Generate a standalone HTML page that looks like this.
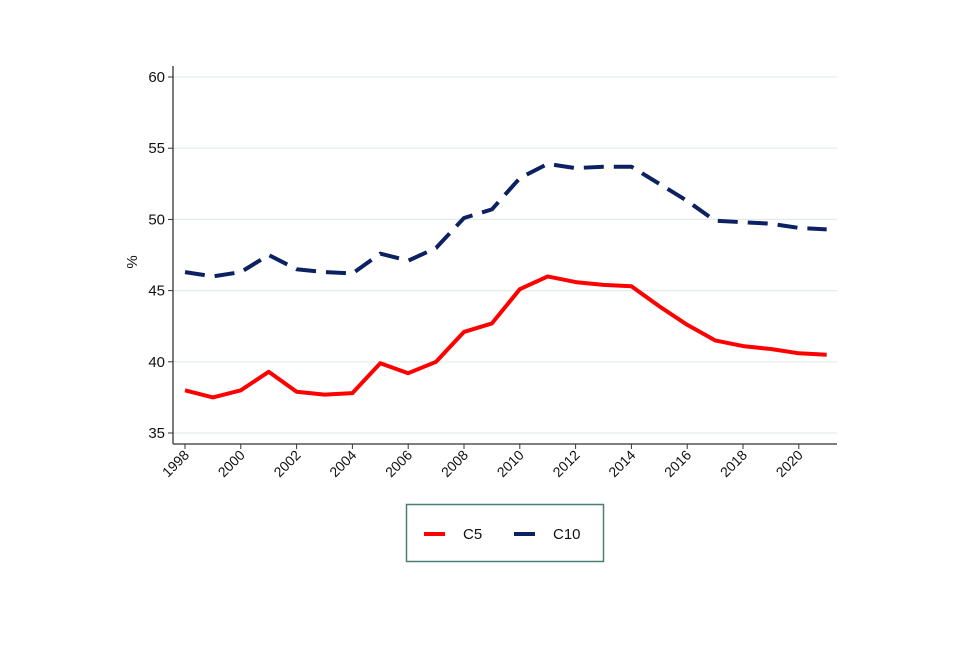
<!DOCTYPE html>
<html><head><meta charset="utf-8"><style>
body{margin:0;background:#fff;}
svg text{font-family:"Liberation Sans",Arial,sans-serif;fill:#111;}
</style></head><body>
<svg width="960" height="640">
<g id="grid"></g>
<g id="axes"></g>
<g id="series"></g>
<text transform="translate(137,262) rotate(-90)" text-anchor="middle" font-size="15">%</text>
<g>
<rect x="406.5" y="504.5" width="197" height="57" fill="#fff" stroke="#4a7f74" stroke-width="1.5"/>
<g>
<line x1="424" y1="534" x2="445" y2="534" stroke="#ff0000" stroke-width="4"/>
<text x="463" y="539" font-size="15">C5</text></g>
<g>
<line x1="514" y1="534" x2="535" y2="534" stroke="#0b2161" stroke-width="4"/>
<text x="553" y="539" font-size="15">C10</text></g>
</g>
</svg>
<script>
const years=[1998,1999,2000,2001,2002,2003,2004,2005,2006,2007,2008,2009,2010,2011,2012,2013,2014,2015,2016,2017,2018,2019,2020,2021];
const c5=[38.0,37.5,38.0,39.3,37.9,37.7,37.8,39.9,39.2,40.0,42.1,42.7,45.1,46.0,45.6,45.4,45.3,43.9,42.6,41.5,41.1,40.9,40.6,40.5];
const c10=[46.3,46.0,46.3,47.5,46.5,46.3,46.2,47.6,47.1,48.0,50.1,50.7,52.9,53.9,53.6,53.7,53.7,52.5,51.3,49.9,49.8,49.7,49.4,49.3];
const yTicks=[35,40,45,50,55,60];
const xTicks=[1998,2000,2002,2004,2006,2008,2010,2012,2014,2016,2018,2020];
const NS='http://www.w3.org/2000/svg';
const x=v=>185+(v-1998)*27.9;
const y=v=>433-(v-35)*14.24;
function mk(tag,attrs,parent){const e=document.createElementNS(NS,tag);for(const k in attrs)e.setAttribute(k,attrs[k]);document.getElementById(parent).appendChild(e);return e;}
yTicks.forEach(t=>{
 const g=mk('line',{x1:173,x2:837,y1:y(t),y2:y(t),stroke:'#e3eeec','stroke-width':1.2},'grid');
 
 
 mk('line',{x1:168,x2:173,y1:y(t),y2:y(t),stroke:'#333','stroke-width':1},'axes');
 const tx=mk('text',{x:165,y:y(t)+5,'text-anchor':'end','font-size':15},'axes');
 tx.textContent=t;
 
 
});
mk('line',{x1:173,x2:173,y1:66,y2:444,stroke:'#333','stroke-width':1.3},'axes');
mk('line',{x1:173,x2:837,y1:444,y2:444,stroke:'#333','stroke-width':1.3},'axes');
xTicks.forEach(t=>{
 mk('line',{x1:x(t),x2:x(t),y1:444,y2:449,stroke:'#333','stroke-width':1},'axes');
 const tx=mk('text',{transform:`translate(${x(t)+5},${456}) rotate(-45)`,'text-anchor':'end','font-size':14},'axes');
 tx.textContent=t;
 
 
});
function path(vals){return vals.map((v,i)=>(i?'L':'M')+x(years[i]).toFixed(1)+','+y(v).toFixed(1)).join('');}
const p1=mk('path',{d:path(c5),fill:'none',stroke:'#ff0000','stroke-width':4,'stroke-linejoin':'round'},'series');


const p2=mk('path',{d:path(c10),fill:'none',stroke:'#0b2161','stroke-width':4,'stroke-dasharray':'20,10','stroke-linejoin':'round'},'series');


</script>
</body></html>
